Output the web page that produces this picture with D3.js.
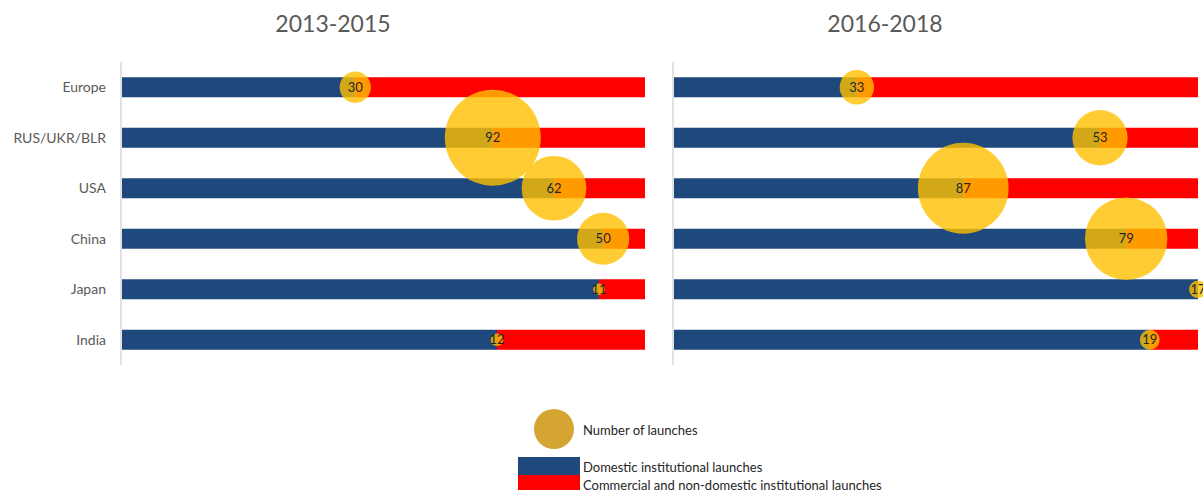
<!DOCTYPE html>
<html>
<head>
<meta charset="utf-8">
<script src="https://cdn.jsdelivr.net/npm/d3@7"></script>
<style>
  body { margin: 0; background: #fff; }
  svg { display: block; font-family: Lato, "Liberation Sans", sans-serif; }
</style>
</head>
<body>
<script>
// countries, top to bottom
let countries = ['Europe', 'RUS/UKR/BLR', 'USA', 'China', 'Japan', 'India']
let periods = ['2013-2015', '2016-2018']
// total launches per period
let launches1315 = [30, 92, 62, 50, 11, 12]
let launches1618 = [33, 53, 87, 79, 17, 19]
// share of domestic institutional launches (rest = commercial / non-domestic)
let domestic1315 = [0.446, 0.709, 0.826, 0.92, 0.912, 0.717]
let domestic1618 = [0.349, 0.813, 0.552, 0.863, 1.0, 0.908]

let legendItems = ['Domestic institutional launches', 'Commercial and non-domestic institutional launches']

let blue = '#1f497d', red = '#ff0000', gold = '#ffc000'

let svg = d3.select('body').append('svg')
  .attr('width', 1203).attr('height', 490)

let y = d3.scalePoint().domain(countries).range([62, 365]).padding(0.5)
let r = d3.scaleLinear().domain([0, 92]).range([0, 48])
let barH = 20

let panels = [
  { title: periods[0], launches: launches1315, domestic: domestic1315, x0: 122, x1: 645, axisX: 121, titleX: 333 },
  { title: periods[1], launches: launches1618, domestic: domestic1618, x0: 674, x1: 1198, axisX: 673, titleX: 885 }
]

panels.forEach((p, pi) => {
  let x = d3.scaleLinear().domain([0, 1]).range([p.x0, p.x1])
  let g = svg.append('g')

  g.append('text')
    .attr('x', p.titleX).attr('y', 32)
    .attr('text-anchor', 'middle')
    .attr('font-size', 23).attr('fill', '#595959')
    .text(p.title)

  g.append('line')
    .attr('x1', p.axisX).attr('x2', p.axisX)
    .attr('y1', 62).attr('y2', 365)
    .attr('stroke', '#d9d9d9').attr('stroke-width', 1.5)

  if (pi === 0) {
    g.selectAll('.ylab').data(countries).enter().append('text')
      .attr('x', 106).attr('y', d => y(d))
      .attr('dy', '0.35em')
      .attr('text-anchor', 'end')
      .attr('font-size', 14).attr('fill', '#595959')
      .text(d => d)
  }

  let rows = countries.map((c, i) => ({ c, n: p.launches[i], dom: p.domestic[i] }))

  g.selectAll('.dom').data(rows).enter().append('rect')
    .attr('x', x(0)).attr('y', d => y(d.c) - barH / 2)
    .attr('width', d => x(d.dom) - x(0)).attr('height', barH)
    .attr('fill', blue)

  g.selectAll('.com').data(rows).enter().append('rect')
    .attr('x', d => x(d.dom)).attr('y', d => y(d.c) - barH / 2)
    .attr('width', d => x(1) - x(d.dom)).attr('height', barH)
    .attr('fill', red)

  g.selectAll('.bub').data(rows).enter().append('circle')
    .attr('cx', d => x(d.dom)).attr('cy', d => y(d.c))
    .attr('r', d => r(d.n))
    .attr('fill', gold).attr('fill-opacity', 0.8)

  g.selectAll('.lab').data(rows).enter().append('text')
    .attr('x', d => x(d.dom)).attr('y', d => y(d.c))
    .attr('dy', '0.35em').attr('text-anchor', 'middle')
    .attr('font-size', 13).attr('fill', '#262626')
    .text(d => d.n)
})

// legend
let lg = svg.append('g')
lg.append('circle').attr('cx', 554).attr('cy', 429).attr('r', 20).attr('fill', '#d4a532')
lg.append('text').attr('x', 583).attr('y', 430).attr('dy', '0.35em')
  .attr('font-size', 13).attr('fill', '#262626').text('Number of launches')

let legColors = [blue, red]
lg.selectAll('.lr').data(legendItems).enter().append('rect')
  .attr('x', 518).attr('y', (d, i) => 457 + i * 18)
  .attr('width', 62).attr('height', 18)
  .attr('fill', (d, i) => legColors[i])
lg.selectAll('.lt').data(legendItems).enter().append('text')
  .attr('x', 583).attr('y', (d, i) => 467 + i * 18).attr('dy', '0.35em')
  .attr('font-size', 13).attr('fill', '#262626')
  .text(d => d)
</script>
</body>
</html>
